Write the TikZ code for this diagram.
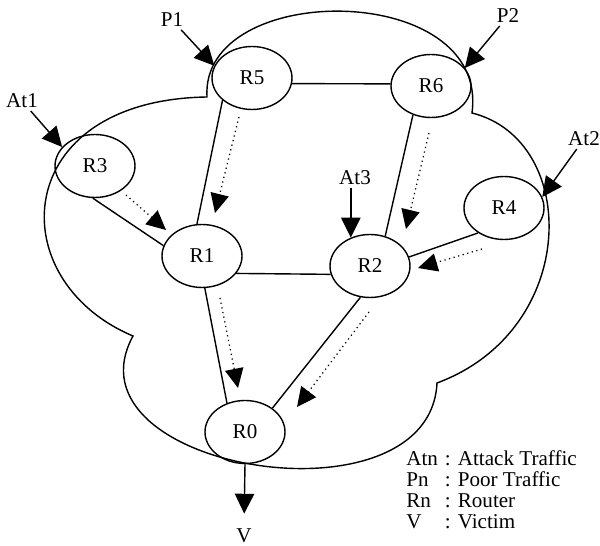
\documentclass[tikz,border=0pt]{standalone}
\usepackage{fontspec}
\setmainfont{Liberation Serif}
\usetikzlibrary{arrows.meta,shapes.geometric}

\tikzset{
	router/.style={draw, ellipse, line width=0.8pt, inner sep=0pt, minimum width=1.6cm, minimum height=1.26cm},
	tag/.style={inner sep=1.5pt},
	link/.style={line width=0.8pt},
	arr/.style={line width=0.8pt, -{Triangle[length=11.3pt,width=11pt]}},
	flow/.style={dotted, line width=0.7pt, -{Triangle[length=11pt,width=10.5pt]}}
}

\begin{document}
\begin{tikzpicture}[x=0.02cm, y=-0.02cm, every node/.style={font=\fontsize{12}{11.9}\selectfont}]
			%%%%% START %%%%%
			\useasboundingbox (0,0) rectangle (600,546);
			
			% network cloud
			\draw[link] (207,97) .. controls (200,-20) and (490,-20) .. (472,113)
				.. controls (580,140) and (580,330) .. (437,383)
				.. controls (430,530) and (60,470) .. (133,336)
				.. controls (0,280) and (10,100) .. cycle;
			
			% routers
			\node[router] (R5) at (252,78) {R5};
			\node[router] (R6) at (431,86) {R6};
			\node[router] (R3) at (95,166) {R3};
			\node[router] (R1) at (202,256) {R1};
			\node[router] (R4) at (504,208) {R4};
			\node[router] (R2) at (370,266) {R2};
			\node[router] (R0) at (245,432) {R0};
			
			\draw[link] (R5.352) -- (R6.177);
			\draw[link] (R5.217) -- (R1.99);
			\draw[link] (R3.266) -- (R1.165);
			\draw[link] (R6.238) -- (R2.63);
			\draw[link] (R4.224) -- (R2.13);
			\draw[link] (R1.333) -- (R2.192);
			\draw[link] (R1.275) -- (R0.122);
			\draw[link] (R2.253) -- (R0.41);
			
			% sources
			\node[tag] (P1) at (172,20) {P1};
			\node[tag] (P2) at (508,16) {P2};
			\node[tag] (At1) at (22,101) {At1};
			\node[tag] (At2) at (584,139) {At2};
			\node[tag] (At3) at (355,178) {At3};
			\node[tag] (V) at (244,536) {V};
			
			\draw[arr] (P1) -- (R5.162);
			\draw[arr] (P2) -- (R6.28);
			\draw[arr] (At1) -- (R3.150);
			\draw[arr] (At2) -- (R4.16);
			\draw[arr] (At3.south -| R2.124) -- (R2.124);
			\draw[arr, shorten >=7pt] (R0.south) -- (V.north);
			
			% traffic towards the victim
			\coordinate (a51) at (239,117); \coordinate (b51) at (215,213);
			\coordinate (a31) at (126,195); \coordinate (b31) at (166,230);
			\coordinate (a62) at (429,133); \coordinate (b62) at (406,229);
			\coordinate (a42) at (482,249); \coordinate (b42) at (418,268);
			\coordinate (a10) at (220,298); \coordinate (b10) at (238,388);
			\coordinate (a20) at (369,312); \coordinate (b20) at (297,407);
			
			\draw[flow] (a51) -- (b51);
			\draw[flow] (a31) -- (b31);
			\draw[flow] (a62) -- (b62);
			\draw[flow] (a42) -- (b42);
			\draw[flow] (a10) -- (b10);
			\draw[flow] (a20) -- (b20);
			
			% legend
			\node[anchor=north west, inner sep=0pt] (legend) at (406,450) {\begin{tabular}{@{}l@{\hspace{4pt}}l@{}}
				Atn & : Attack Traffic\\
				Pn & : Poor Traffic\\
				Rn & : Router\\
				V & : Victim
			\end{tabular}};
			
			%%%%% END %%%%%
		\end{tikzpicture}
\end{document}
